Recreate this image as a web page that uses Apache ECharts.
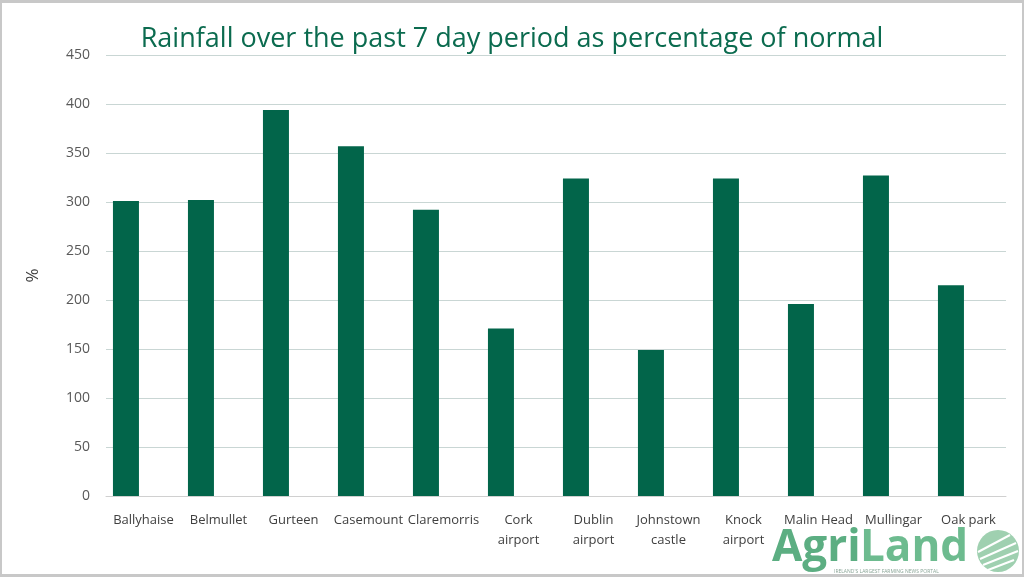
<!DOCTYPE html>
<html>
<head>
<meta charset="utf-8">
<script src="https://cdn.jsdelivr.net/npm/echarts@6/dist/echarts.min.js"></script>
<style>
html,body{margin:0;padding:0;background:#fff;}
#chart{width:1024px;height:577px;box-sizing:border-box;border:3px solid #c8c8c8;border-left-width:2px;border-right-width:2px;}
</style>
</head>
<body>
<div id="chart"></div>
<script>
const categories = ['Ballyhaise','Belmullet','Gurteen','Casemount','Claremorris','Cork\nairport','Dublin\nairport','Johnstown\ncastle','Knock\nairport','Malin Head','Mullingar','Oak park'];
const rainfallPct = [301, 302, 394, 357, 292, 171, 324, 149, 324, 196, 327, 215];
const yTicks = {min: 0, max: 450, interval: 50};

const chart = echarts.init(document.getElementById('chart'));
chart.setOption({
  animation: false,
  title: {
    text: 'Rainfall over the past 7 day period as percentage of normal',
    left: 'center',
    top: 21,
    backgroundColor: '#fff',
    padding: [2, 6],
    textStyle: {color: '#0b6b4f', fontFamily: 'Open Sans', fontWeight: 'normal', fontSize: 27}
  },
  grid: {left: 104, right: 16, top: 52, bottom: 78},
  xAxis: {
    type: 'category',
    data: categories,
    axisTick: {show: false},
    axisLine: {lineStyle: {color: '#d0d0d0'}},
    axisLabel: {color: '#404040', fontFamily: 'Open Sans', fontSize: 13, interval: 0, margin: 14, lineHeight: 20}
  },
  yAxis: {
    type: 'value',
    min: yTicks.min, max: yTicks.max, interval: yTicks.interval,
    name: '%',
    nameLocation: 'middle',
    nameRotate: 90,
    nameGap: 64,
    nameTextStyle: {color: '#404040', fontFamily: 'Open Sans', fontSize: 17},
    axisLabel: {color: '#595959', fontFamily: 'Open Sans', fontSize: 14, margin: 16},
    splitLine: {lineStyle: {color: '#c9d6d4'}},
    axisLine: {show: false}
  },
  series: [
    {type: 'bar', data: rainfallPct, barWidth: 26, barGap: '35%', itemStyle: {color: '#02654a'}},
    {type: 'bar', data: [], barWidth: 26}
  ],
  graphic: [
    {type: 'text', left: 770, top: 523, style: {text: 'Agri', fill: '#5cae82', font: 'bold 44px "Open Sans"'}},
    {type: 'text', left: 858, top: 523, style: {text: 'Land', fill: '#6dbb8f', font: 'bold 44px "Open Sans"'}},
    {type: 'text', left: 832, top: 566, style: {text: "IRELAND'S LARGEST FARMING NEWS PORTAL", fill: '#8aa597', font: '5px "Open Sans"'}},
    {type: 'circle', shape: {cx: 996, cy: 548, r: 21}, style: {fill: '#9fd0b0'}},
    {type: 'line', shape: {x1: 978, y1: 556, x2: 1014, y2: 540}, style: {stroke: '#fff', lineWidth: 2}},
    {type: 'line', shape: {x1: 981, y1: 562, x2: 1016, y2: 548}, style: {stroke: '#fff', lineWidth: 2}},
    {type: 'line', shape: {x1: 976, y1: 549, x2: 1008, y2: 532}, style: {stroke: '#fff', lineWidth: 2}},
    {type: 'line', shape: {x1: 986, y1: 567, x2: 1012, y2: 557}, style: {stroke: '#fff', lineWidth: 2}}
  ]
});
</script>
</body>
</html>
